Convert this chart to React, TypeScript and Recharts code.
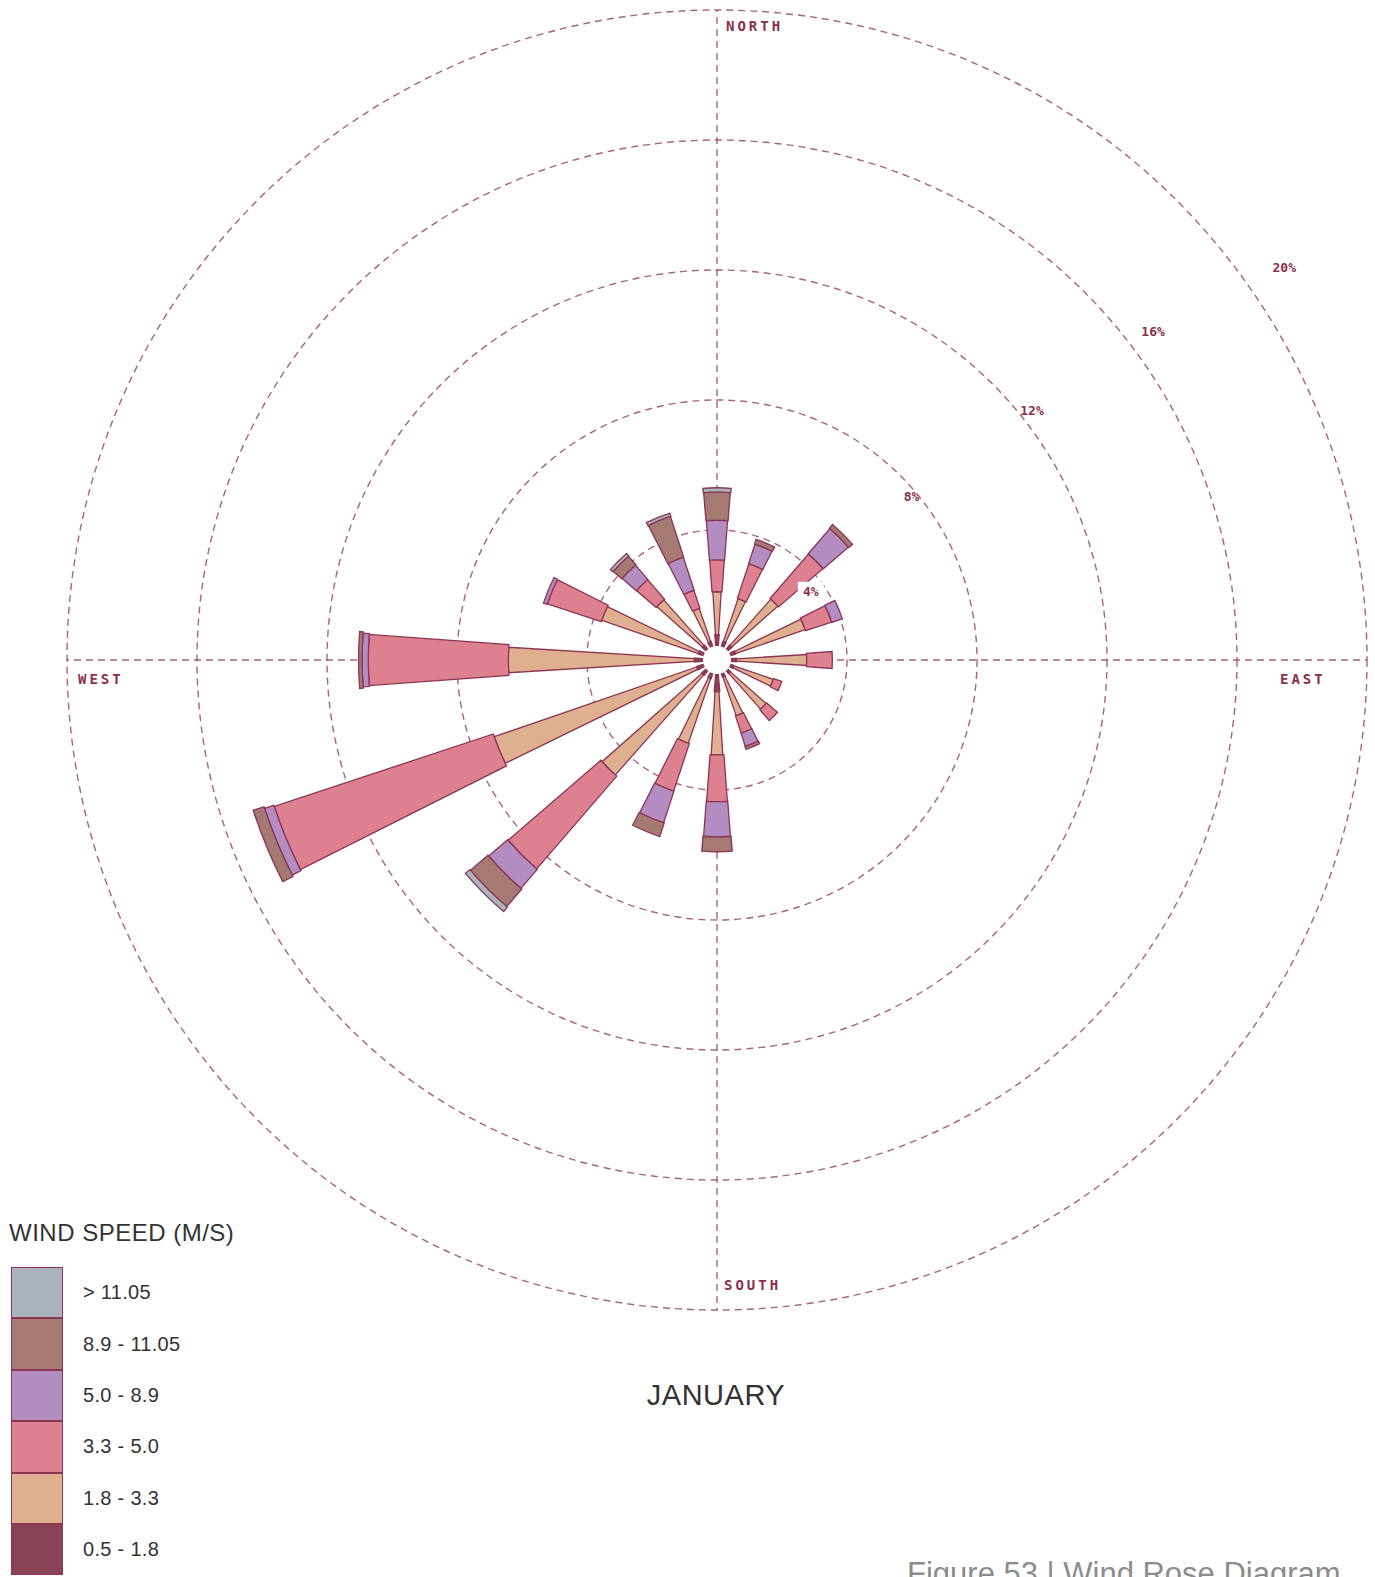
import React from 'react';
import {
  RadialBarChart,
  RadialBar,
  PolarGrid,
  PolarAngleAxis,
  PolarRadiusAxis,
  Sector,
  Customized,
} from 'recharts';

// ---------- data ----------
const directions = ['N', 'NNE', 'NE', 'ENE', 'E', 'ESE', 'SE', 'SSE', 'S', 'SSW', 'SW', 'WSW', 'W', 'WNW', 'NW', 'NNW'];

// frequency (%) per wind-speed class, per direction
const speed05to18 = [0.78, 0.6, 0.6, 0.6, 0.6, 0.55, 0.55, 0.55, 0.98, 0.6, 0.62, 0.66, 0.7, 0.6, 0.6, 0.6];
const speed18to33 = [1.32, 1.4, 1.9, 2.27, 2.16, 1.28, 1.47, 1.26, 1.94, 2.11, 4.1, 6.59, 5.72, 3.15, 1.87, 1.08];
const speed33to50 = [0.98, 1.12, 1.81, 0.85, 0.79, 0.27, 0.44, 0.56, 1.44, 1.54, 3.77, 7.1, 4.31, 1.75, 0.8, 0.58];
const speed50to89 = [1.22, 0.63, 1.02, 0.34, 0, 0, 0, 0.43, 1.08, 1.02, 0.77, 0.3, 0.19, 0.12, 0.58, 1.07];
const speed89to1105 = [0.87, 0.15, 0.15, 0, 0, 0, 0, 0.09, 0.46, 0.44, 0.71, 0.35, 0.11, 0, 0.35, 1.32];
const speedOver1105 = [0.13, 0, 0, 0, 0, 0, 0, 0, 0, 0, 0.18, 0, 0, 0, 0.1, 0.1];

const speedLabels = ['0.5 - 1.8', '1.8 - 3.3', '3.3 - 5.0', '5.0 - 8.9', '8.9 - 11.05', '> 11.05'];
const ringTicks = [4, 8, 12, 16, 20];
const compassLabels = ['NORTH', 'EAST', 'SOUTH', 'WEST'];
const monthLabel = 'JANUARY';
const legendTitle = 'WIND SPEED (M/S)';
const captionText = 'Figure 53 | Wind Rose Diagram';

const seriesValues = [speed05to18, speed18to33, speed33to50, speed50to89, speed89to1105, speedOver1105];
const seriesKeys = ['s1', 's2', 's3', 's4', 's5', 's6'];

const data = directions.map((dir, i) => {
  const row: any = { dir };
  seriesKeys.forEach((k, j) => {
    row[k] = seriesValues[j][i];
  });
  return row;
});

// ---------- styling ----------
const COLORS = ['#8a4257', '#dfb08f', '#dd8190', '#b38cc2', '#a47a72', '#a9b4be'];
const WEDGE_WIDTHS = [10, 7.0, 8.4, 8.7, 9.1, 9.4]; // degrees
const OUTLINE = '#8b3553';
const GRID = '#9a4864';
const LABEL = '#8b2e4c';

const W = 1375;
const H = 1577;
const CX = 717;
const CY = 660;
const R = 650;

const TICK_OFFSETS = [-14, -6, 12, 26, 40];
const TICK_ANGLES = [36, 40, 38.4, 37, 34.7];

const makeShape = (w: number, fill: string) => (props: any) => {
  const { cx, cy, innerRadius, outerRadius, startAngle, endAngle } = props;
  if (!(outerRadius - innerRadius > 0.3)) return <g />;
  const mid = (startAngle + endAngle) / 2;
  return (
    <Sector
      cx={cx}
      cy={cy}
      innerRadius={innerRadius}
      outerRadius={outerRadius}
      startAngle={mid - w / 2}
      endAngle={mid + w / 2}
      fill={fill}
      stroke={OUTLINE}
      strokeWidth={1.3}
    />
  );
};

const RingTick = (props: any) => {
  const { x, y, payload, index } = props;
  const r = Math.hypot(x - CX, y - CY);
  const i = ringTicks.indexOf(payload.value);
  const a = ((TICK_ANGLES[i] ?? 37) * Math.PI) / 180;
  const rr = r + (TICK_OFFSETS[i] ?? 10);
  const tx = CX + rr * Math.cos(a);
  const ty = CY - rr * Math.sin(a);
  return (
    <g key={index}>
      {i === 0 && <rect x={tx - 13} y={ty - 10} width={26} height={20} fill="#ffffff" />}
      <text
        x={tx}
        y={ty}
        textAnchor="middle"
        dominantBaseline="central"
        fontFamily="'DejaVu Sans Mono', monospace"
        fontWeight="bold"
        fontSize={13}
        fill={LABEL}
      >
        {`${payload.value}%`}
      </text>
    </g>
  );
};

const compassStyle = {
  fontFamily: "'DejaVu Sans Mono', monospace",
  fontWeight: 'bold' as const,
  fontSize: 14,
  letterSpacing: 3,
  fill: LABEL,
};

const CompassLabels = () => (
  <g>
    <text x={CX + 9} y={31} {...compassStyle}>{compassLabels[0]}</text>
    <text x={1280} y={684} {...compassStyle}>{compassLabels[1]}</text>
    <text x={CX + 7} y={1290} {...compassStyle}>{compassLabels[2]}</text>
    <text x={78} y={684} {...compassStyle}>{compassLabels[3]}</text>
  </g>
);

const textFont = "'Liberation Sans', Arial, Helvetica, sans-serif";

export default function App() {
  const legendRows = speedLabels.map((label, i) => ({ label, color: COLORS[i] })).reverse();
  return (
    <div style={{ position: 'absolute', left: 0, top: 0, width: W, height: H, overflow: 'hidden', background: '#ffffff' }}>
      <RadialBarChart
        width={W}
        height={H}
        data={data}
        layout="centric"
        cx={CX}
        cy={CY}
        innerRadius={0}
        outerRadius={R}
        startAngle={78.75}
        endAngle={-281.25}
        barCategoryGap="10%"
        margin={{ top: 0, right: 0, bottom: 0, left: 0 }}
      >
        <PolarGrid
          gridType="circle"
          polarAngles={[0, 90, 180, 270]}
          stroke={GRID}
          strokeOpacity={0.85}
          strokeWidth={1.4}
          strokeDasharray="7 5"
        />
        <PolarAngleAxis dataKey="dir" type="category" tick={false} tickLine={false} axisLine={false} />
        <PolarRadiusAxis
          type="number"
          domain={[0, 20]}
          ticks={ringTicks}
          angle={37}
          axisLine={false}
          tickLine={false}
          tick={<RingTick />}
        />
        {seriesKeys.map((k, j) => (
          <RadialBar
            key={k}
            dataKey={k}
            stackId="wind"
            fill={COLORS[j]}
            isAnimationActive={false}
            shape={makeShape(WEDGE_WIDTHS[j], COLORS[j])}
          />
        ))}
        <Customized component={CompassLabels} />
      </RadialBarChart>

      {/* calm hub drawn over the bars */}
      <svg style={{ position: 'absolute', left: CX - 16, top: CY - 16 }} width={32} height={32}>
        <circle cx={16} cy={16} r={14} fill="#ffffff" />
      </svg>

      {/* legend */}
      <div style={{ position: 'absolute', left: 9, top: 1221, fontFamily: textFont, fontSize: 24, letterSpacing: 0.5, lineHeight: '24px', color: '#333' }}>
        {legendTitle}
      </div>
      <div style={{ position: 'absolute', left: 11, top: 1267, width: 300 }}>
        {legendRows.map((row) => (
          <div key={row.label} style={{ display: 'flex', alignItems: 'center', height: 51.4 }}>
            <div
              style={{
                width: 52,
                height: 51.4,
                boxSizing: 'border-box',
                background: row.color,
                border: `1.5px solid ${OUTLINE}`,
                borderTopWidth: 1,
                borderBottomWidth: 1,
              }}
            />
            <div style={{ marginLeft: 20, fontFamily: textFont, fontSize: 20, letterSpacing: 0.3, color: '#333' }}>{row.label}</div>
          </div>
        ))}
      </div>

      <div style={{ position: 'absolute', left: 516, width: 400, top: 1381, textAlign: 'center', fontFamily: textFont, fontSize: 29, letterSpacing: 0.5, lineHeight: '29px', color: '#333' }}>
        {monthLabel}
      </div>
      <div style={{ position: 'absolute', left: 907, top: 1558, fontFamily: textFont, fontSize: 31, lineHeight: '31px', color: '#8c8c8c', whiteSpace: 'nowrap' }}>
        {captionText}
      </div>
    </div>
  );
}
